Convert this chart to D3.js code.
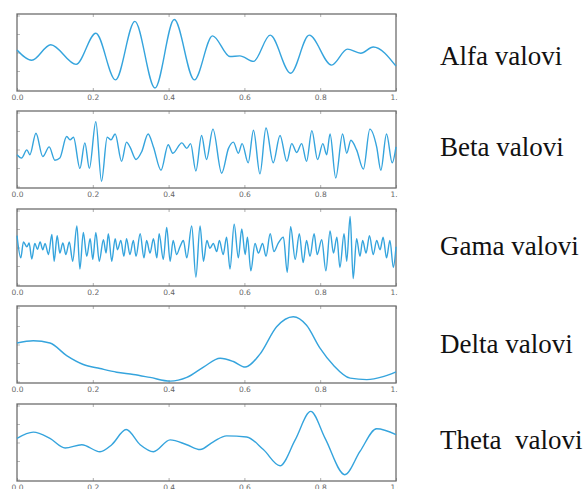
<!DOCTYPE html>
<html>
<head>
<meta charset="utf-8">
<script src="https://cdn.jsdelivr.net/npm/d3@7"></script>
<style>
  html, body { margin: 0; padding: 0; background: #fff; }
  svg { display: block; }
</style>
</head>
<body>
<svg id="chart" width="587" height="489"></svg>
<script>
// Wave names shown to the right of each panel
const labels = ["Alfa valovi", "Beta valovi", "Gama valovi", "Delta valovi", "Theta  valovi"];

// Time-axis tick labels (seconds)
const tickValues = [0, 0.2, 0.4, 0.6, 0.8, 1.0];

// Each series: [time, amplitude] samples at the turning points of the trace
const alfa = [
  [0.000, 0.07], [0.039, -0.21], [0.089, 0.21], [0.156, -0.32], [0.208, 0.52],
  [0.260, -0.74], [0.311, 0.84], [0.364, -0.96], [0.415, 0.89], [0.468, -0.74],
  [0.516, 0.45], [0.562, -0.11], [0.588, -0.09], [0.624, -0.24], [0.668, 0.47],
  [0.722, -0.56], [0.771, 0.47], [0.830, -0.34], [0.872, 0.09], [0.907, -0.02],
  [0.940, 0.15], [1.000, -0.37]
];

const beta = [
  [0.000, -0.14], [0.012, -0.23], [0.026, -0.01], [0.034, -0.14], [0.050, 0.44],
  [0.068, -0.19], [0.085, 0.07], [0.100, -0.29], [0.113, -0.23], [0.131, 0.35],
  [0.140, 0.26], [0.149, 0.33], [0.166, -0.51], [0.179, 0.18], [0.191, -0.51],
  [0.208, 0.75], [0.223, -0.86], [0.238, 0.33], [0.248, 0.26], [0.259, 0.42],
  [0.276, -0.32], [0.289, 0.20], [0.298, 0.07], [0.314, -0.27], [0.329, -0.06],
  [0.346, 0.42], [0.360, 0.07], [0.380, -0.56], [0.399, 0.13], [0.411, -0.10],
  [0.435, 0.18], [0.448, 0.03], [0.458, 0.16], [0.472, -0.58], [0.487, 0.38],
  [0.500, -0.27], [0.517, 0.55], [0.540, -0.64], [0.558, 0.03], [0.571, 0.20],
  [0.584, -0.10], [0.594, 0.16], [0.610, -0.36], [0.624, 0.52], [0.641, -0.66],
  [0.657, 0.58], [0.676, -0.36], [0.694, 0.38], [0.712, -0.32], [0.725, 0.16],
  [0.738, -0.08], [0.751, 0.16], [0.764, -0.32], [0.778, 0.51], [0.793, -0.27],
  [0.807, 0.16], [0.817, -0.14], [0.826, 0.42], [0.841, -0.77], [0.859, 0.42],
  [0.870, -0.10], [0.881, 0.25], [0.896, -0.01], [0.914, -0.53], [0.931, 0.55],
  [0.949, 0.07], [0.960, -0.56], [0.975, 0.42], [0.990, -0.36], [1.000, 0.07]
];

const gama = [
  [0.000, 0.32], [0.010, -0.28], [0.017, 0.15], [0.026, 0.02], [0.032, 0.12],
  [0.039, -0.31], [0.047, 0.11], [0.054, -0.05], [0.061, 0.15], [0.068, -0.06],
  [0.074, 0.11], [0.083, -0.19], [0.092, 0.35], [0.098, -0.37], [0.106, 0.32],
  [0.113, -0.15], [0.121, 0.12], [0.129, -0.19], [0.138, 0.15], [0.147, -0.37],
  [0.158, 0.58], [0.166, -0.58], [0.175, 0.41], [0.184, -0.24], [0.193, 0.24],
  [0.200, -0.32], [0.208, 0.41], [0.217, -0.37], [0.228, 0.21], [0.235, -0.15],
  [0.241, 0.37], [0.250, -0.37], [0.259, 0.24], [0.265, -0.06], [0.274, 0.19],
  [0.282, -0.24], [0.289, 0.24], [0.298, -0.19], [0.307, 0.19], [0.314, -0.24],
  [0.325, 0.37], [0.335, -0.28], [0.342, 0.19], [0.351, -0.15], [0.360, 0.24],
  [0.369, -0.28], [0.375, 0.37], [0.386, -0.32], [0.395, 0.54], [0.404, -0.37],
  [0.412, 0.19], [0.421, -0.19], [0.430, 0.02], [0.439, 0.19], [0.448, -0.28],
  [0.461, 0.58], [0.472, -0.80], [0.483, 0.58], [0.492, -0.37], [0.501, 0.19],
  [0.509, -0.02], [0.518, 0.11], [0.527, -0.11], [0.534, 0.19], [0.544, -0.19],
  [0.553, 0.28], [0.562, -0.58], [0.573, 0.63], [0.584, -0.28], [0.593, 0.50],
  [0.602, -0.19], [0.608, 0.28], [0.617, -0.63], [0.628, 0.11], [0.637, -0.15],
  [0.648, 0.11], [0.657, -0.24], [0.668, 0.37], [0.678, -0.11], [0.689, 0.11],
  [0.703, 0.28], [0.713, -0.67], [0.722, 0.56], [0.734, -0.32], [0.745, 0.37],
  [0.755, -0.41], [0.764, 0.19], [0.773, -0.24], [0.784, 0.37], [0.792, -0.19],
  [0.804, 0.21], [0.815, -0.63], [0.826, 0.45], [0.835, -0.15], [0.844, 0.28],
  [0.852, -0.54], [0.863, 0.37], [0.870, -0.37], [0.879, 0.84], [0.887, -0.84],
  [0.896, 0.24], [0.905, -0.24], [0.912, 0.19], [0.921, -0.15], [0.930, 0.32],
  [0.940, -0.19], [0.949, 0.19], [0.958, -0.06], [0.966, 0.28], [0.975, -0.28],
  [0.984, 0.19], [0.993, -0.54], [1.000, 0.02]
];

const delta = [
  [0.000, 0.04], [0.043, 0.10], [0.087, 0.04], [0.131, -0.30], [0.175, -0.54],
  [0.219, -0.65], [0.263, -0.75], [0.307, -0.81], [0.351, -0.89], [0.404, -0.99],
  [0.448, -0.89], [0.492, -0.61], [0.536, -0.37], [0.571, -0.46], [0.602, -0.61],
  [0.641, -0.26], [0.685, 0.48], [0.729, 0.75], [0.764, 0.52], [0.799, -0.09],
  [0.835, -0.56], [0.879, -0.91], [0.923, -0.95], [0.966, -0.87], [1.000, -0.74]
];

const theta = [
  [0.000, 0.11], [0.043, 0.28], [0.087, 0.11], [0.127, -0.15], [0.171, -0.06],
  [0.219, -0.25], [0.250, -0.06], [0.288, 0.35], [0.325, -0.06], [0.360, -0.25],
  [0.404, 0.07], [0.448, -0.06], [0.483, -0.19], [0.518, 0.02], [0.553, 0.18],
  [0.606, 0.15], [0.650, -0.19], [0.694, -0.63], [0.734, 0.07], [0.775, 0.84],
  [0.813, 0.11], [0.865, -0.87], [0.905, -0.24], [0.949, 0.37], [1.000, 0.21]
];

const series = [alfa, beta, gama, delta, theta];

// Layout
const svg = d3.select("#chart");
const plotLeft = 17, plotRight = 396;
const panelTops = [14, 111, 209, 306, 404];
const panelH = 77;
const labelBaselines = [65, 156, 255, 353, 449];
const labelX = 440;
const waveColor = "#35a4dd";

svg.append("defs").append("clipPath").attr("id", "leftClip")
  .append("rect").attr("x", 0).attr("y", 0).attr("width", 397.5).attr("height", 489);

const x = d3.scaleLinear().domain([0, 1]).range([plotLeft, plotRight]);

series.forEach((data, i) => {
  const top = panelTops[i];
  const y = d3.scaleLinear().domain([-1, 1]).range([top + panelH - 1.5, top + 1.5]);
  const g = svg.append("g").attr("clip-path", "url(#leftClip)");

  // Bottom axis with tick labels
  const bottomAxis = d3.axisBottom(x).tickValues(tickValues)
    .tickFormat(d3.format(".1f")).tickSize(-3).tickPadding(4);
  const ax = g.append("g").attr("transform", `translate(0,${top + panelH})`).call(bottomAxis);
  ax.select(".domain").remove();
  ax.selectAll(".tick line").attr("stroke", "#999").attr("stroke-width", 0.8);
  ax.selectAll(".tick text")
    .attr("fill", "#666").attr("font-size", 7.5)
    .attr("font-family", "DejaVu Sans, sans-serif");

  // Top ticks
  const topAxis = d3.axisTop(x).tickValues(tickValues).tickSize(-3).tickFormat("");
  const tx = g.append("g").attr("transform", `translate(0,${top})`).call(topAxis);
  tx.select(".domain").remove();
  tx.selectAll(".tick line").attr("stroke", "#999").attr("stroke-width", 0.8);

  // Left ticks
  const leftAxis = d3.axisLeft(y).ticks(4).tickSize(-3).tickFormat("");
  const lx = g.append("g").attr("transform", `translate(${plotLeft},0)`).call(leftAxis);
  lx.select(".domain").remove();
  lx.selectAll(".tick line").attr("stroke", "#aaa").attr("stroke-width", 0.8);

  // Frame
  g.append("rect")
    .attr("x", plotLeft).attr("y", top)
    .attr("width", plotRight - plotLeft).attr("height", panelH)
    .attr("fill", "none").attr("stroke", "#6e6e6e").attr("stroke-width", 1.3);

  // Wave trace
  const line = d3.line()
    .x(d => x(d[0]))
    .y(d => y(d[1]))
    .curve(d3.curveMonotoneX);
  g.append("path")
    .datum(data)
    .attr("d", line)
    .attr("fill", "none")
    .attr("stroke", waveColor)
    .attr("stroke-width", 1.4)
    .attr("stroke-linejoin", "round");

  // Name
  svg.append("text")
    .attr("x", labelX).attr("y", labelBaselines[i])
    .attr("font-family", "Liberation Serif, Times New Roman, serif")
    .attr("font-size", 27)
    .attr("fill", "#111")
    .style("white-space", "pre")
    .attr("xml:space", "preserve")
    .text(labels[i]);
});
</script>
</body>
</html>
